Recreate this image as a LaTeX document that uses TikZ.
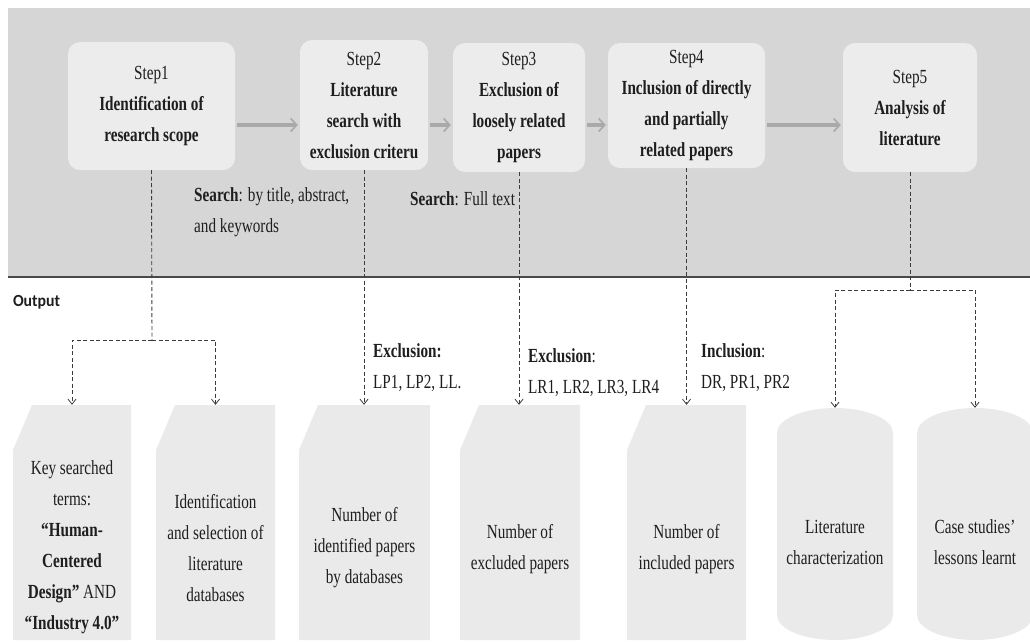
\documentclass[tikz,border=0pt]{standalone}
\usepackage{fontspec}
\setmainfont{Liberation Serif}[FakeStretch=0.76]
\newfontfamily\outfont{Carlito}[FakeStretch=0.93]
\usetikzlibrary{arrows.meta}
\definecolor{bandgray}{HTML}{D6D6D6}
\definecolor{stepgray}{HTML}{ECECEC}
\definecolor{boxgray}{HTML}{EAEAEA}
\definecolor{flowgray}{HTML}{A9A9A9}
\definecolor{dashgray}{HTML}{3C3C3C}
\definecolor{txt}{HTML}{1E1E1E}
\definecolor{rulegray}{HTML}{4A4A4A}
\begin{document}
\begin{tikzpicture}[x=1pt,y=-1pt,
  every node/.style={font=\fontsize{20}{31}\selectfont, text=txt, inner sep=0pt},
  stepbox/.style={fill=stepgray, rounded corners=12pt, align=center},
  flow/.style={draw=flowgray, line width=3.5pt, -{Straight Barb[length=6pt,width=13pt,line width=1.6pt]}, shorten >=2pt, shorten <=2pt},
  dashc/.style={draw=dashgray, line width=0.9pt, dash pattern=on 4pt off 2.5pt},
  dasharr/.style={dashc, -{Straight Barb[length=5pt,width=8pt,line width=0.8pt]}},
  btext/.style={align=center},
  ltext/.style={align=left, anchor=west},
  chamf/.style={minimum width=#1, minimum height=235pt, path picture={\fill[boxgray] (path picture bounding box.south west) -- ([yshift=-45pt]path picture bounding box.north west) -- ([xshift=19pt]path picture bounding box.north west) -- (path picture bounding box.north east) -- (path picture bounding box.south east) -- cycle;}},
  cyl/.style={minimum width=116pt, minimum height=232pt, path picture={\fill[boxgray] ([yshift=25pt]path picture bounding box.south west) -- ([yshift=-25pt]path picture bounding box.north west) arc[start angle=180, end angle=0, x radius=58pt, y radius=25pt] -- ([yshift=25pt]path picture bounding box.south east) arc[start angle=0, end angle=-180, x radius=58pt, y radius=25pt] -- cycle;}}
]
\useasboundingbox (0,0) rectangle (1030,641);
% band
\fill[bandgray] (8,8) rectangle (1030,277);
\draw[rulegray, line width=2.5pt] (8,277) -- (1030,277);

% steps
\node[stepbox, minimum width=167pt, minimum height=128pt] (s1) at (151.5,106) {Step1\\\textbf{Identification of}\\\textbf{research scope}};
\node[stepbox, minimum width=128pt, minimum height=130pt] (s2) at (364,105) {Step2\\\textbf{Literature}\\\textbf{search with}\\\textbf{exclusion criteru}};
\node[stepbox, minimum width=132pt, minimum height=129pt] (s3) at (519,107.5) {Step3\\\textbf{Exclusion of}\\\textbf{loosely related}\\\textbf{papers}};
\node[stepbox, minimum width=157pt, minimum height=125pt] (s4) at (686.5,105.5) {Step4\\\textbf{Inclusion of directly}\\\textbf{and partially}\\\textbf{related papers}};
\node[stepbox, minimum width=134pt, minimum height=129pt] (s5) at (910,107.5) {Step5\\\textbf{Analysis of}\\\textbf{literature}};

\draw[flow] (s1.east |- 0,125) -- (s2.west |- 0,125);
\draw[flow] (s2.east |- 0,125) -- (s3.west |- 0,125);
\draw[flow] (s3.east |- 0,125) -- (s4.west |- 0,125);
\draw[flow] (s4.east |- 0,125) -- (s5.west |- 0,125);

% annotations
\node[ltext] (q1) at (194,212) {\textbf{Search}: by title, abstract,\\and keywords};
\node[ltext] (q2) at (410,199) {\textbf{Search}: Full text};
\node[outer sep=0pt, anchor=west, font={\outfont\fontsize{17}{20}\selectfont\bfseries}] (outlbl) at (13,302) {Output};
\node[ltext] (e1) at (373,368) {\textbf{Exclusion:}\\LP1, LP2, LL.};
\node[ltext] (e2) at (528,373) {\textbf{Exclusion}:\\LR1, LR2, LR3, LR4};
\node[ltext] (e3) at (701,368) {\textbf{Inclusion}:\\DR, PR1, PR2};

% output boxes
\node[chamf=118pt] (o1) at (72,522.5) {};
\node[chamf=119pt] (o2) at (215.5,522.5) {};
\node[chamf=131pt] (o3) at (364.5,522.5) {};
\node[chamf=120pt] (o4) at (520,522.5) {};
\node[chamf=119pt] (o5) at (686.5,522.5) {};
\node[cyl] (o6) at (835,524) {};
\node[cyl] (o7) at (975,524) {};

\node[btext] (t1) at (72,547) {Key searched\\terms:\\\textbf{“Human-}\\\textbf{Centered}\\\textbf{Design”} AND\\\textbf{“Industry 4.0”}};
\node[btext] (t2) at (215.5,548) {Identification\\and selection of\\literature\\databases};
\node[btext] (t3) at (364.5,548) {Number of\\identified papers\\by databases};
\node[btext] (t4) at (520,549) {Number of\\excluded papers};
\node[btext] (t5) at (686.5,549) {Number of\\included papers};
\node[btext] (t6) at (835,542) {Literature\\characterization};
\node[btext] (t7) at (975,542) {Case studies’\\lessons learnt};

% dashed connectors
\coordinate (j1) at (152,340);
\draw[dashc] (s1.south) -- (j1);
\draw[dasharr] (j1) -| (o1.north);
\draw[dasharr] (j1) -| (o2.north);
\draw[dasharr] (s2.south) -- (s2.south |- o3.north);
\draw[dasharr] (s3.south) -- (s3.south |- o4.north);
\draw[dasharr] (s4.south) -- (s4.south |- o5.north);
\coordinate (j5) at (910,290);
\draw[dashc] (s5.south) -- (j5);
\draw[dasharr] (j5) -| (o6.north);
\draw[dasharr] (j5) -| (o7.north);
\end{tikzpicture}
\end{document}
